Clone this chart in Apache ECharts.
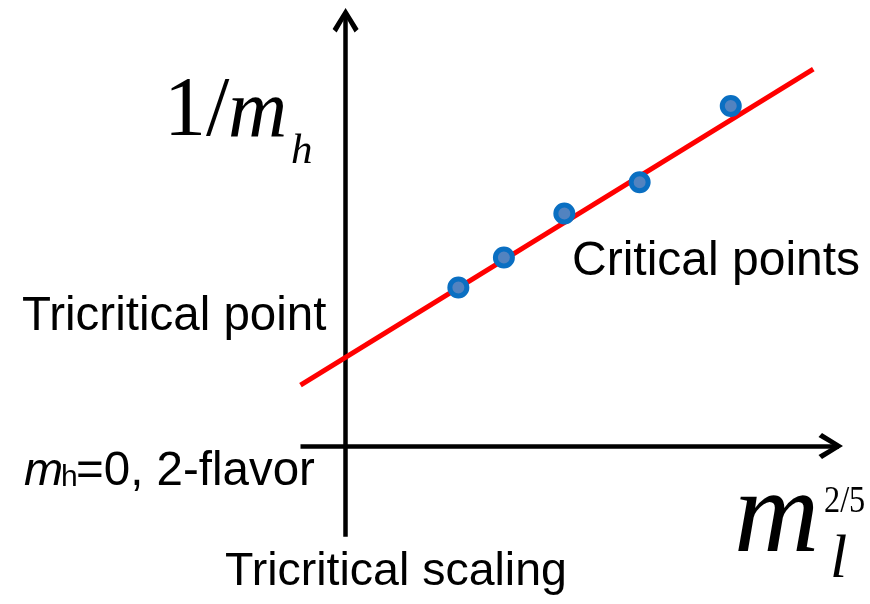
<!DOCTYPE html>
<html>
<head>
<meta charset="utf-8">
<script src="https://cdn.jsdelivr.net/npm/echarts@6/dist/echarts.min.js"></script>
<style>
  html, body { margin: 0; padding: 0; background: #ffffff; }
  #chart { width: 870px; height: 604px; }
</style>
</head>
<body>
<div id="chart"></div>
<script>
// Critical points (x = m_l^{2/5}, y = 1/m_h), arbitrary units
const criticalX = [2.50, 3.51, 4.85, 6.52, 8.54];
const criticalY = [3.49, 4.15, 5.12, 5.81, 7.49];

// Linear tricritical-scaling fit, given by its two end points
const fitX = [-1.0, 10.37];
const fitY = [1.34, 8.30];

// Axis extents (origin sits at 0,0)
const xRange = [-1, 10.94];
const yRange = [-2, 9.56];

const SANS = '"Liberation Sans", Arial, sans-serif';
const SERIF = '"Liberation Serif", "Times New Roman", serif';

// Open chevron arrow head for the axis ends
const chevron = 'path://M13,0 L26,21 L22,24.5 L13,9 L4,24.5 L0,21 Z';

const axisLine = {
  show: true,
  onZero: true,
  symbol: ['none', chevron],
  symbolSize: [26, 24.5],
  symbolOffset: [0, -8.25],
  lineStyle: { color: '#000000', width: 4.5, cap: 'butt' }
};

// Text placed by its left edge and baseline
function label(text, x, baseline, size, opts) {
  opts = opts || {};
  const serif = opts.family === SERIF;
  const mid = baseline - size * (serif ? 0.3375 : 0.3465);
  return {
    type: 'text',
    x: x,
    y: mid,
    scaleX: opts.scaleX || 1,
    z: 10,
    style: {
      text: text,
      font: (opts.italic ? 'italic ' : '') + size + 'px ' + (opts.family || SANS),
      fill: '#000000',
      align: 'left',
      verticalAlign: 'middle'
    }
  };
}

const chart = echarts.init(document.getElementById('chart'));
chart.setOption({
  animation: false,
  backgroundColor: '#ffffff',
  grid: { left: 300.5, right: 31, top: 12, bottom: 67.3 },
  xAxis: {
    type: 'value',
    min: xRange[0],
    max: xRange[1],
    axisLine: axisLine,
    axisTick: { show: false },
    axisLabel: { show: false },
    splitLine: { show: false }
  },
  yAxis: {
    type: 'value',
    min: yRange[0],
    max: yRange[1],
    axisLine: axisLine,
    axisTick: { show: false },
    axisLabel: { show: false },
    splitLine: { show: false }
  },
  series: [
    {
      type: 'line',
      data: fitX.map((x, i) => [x, fitY[i]]),
      showSymbol: false,
      symbol: 'none',
      lineStyle: { color: '#ff0000', width: 5, cap: 'butt' },
      z: 2
    },
    {
      type: 'scatter',
      data: criticalX.map((x, i) => [x, criticalY[i]]),
      symbol: 'circle',
      symbolSize: 17,
      itemStyle: { color: '#5283c0', borderColor: '#0a6fc2', borderWidth: 5, opacity: 1 },
      z: 3
    }
  ],
  graphic: [
    // y-axis title: 1/m_h
    label('1/', 164, 141.7, 84, { family: SERIF }),
    label('m', 228, 141.7, 82, { family: SERIF, italic: true }),
    label('h', 291, 166.7, 43, { family: SERIF, italic: true }),
    // x-axis title: m_l^{2/5}
    label('m', 734, 560, 118, { family: SERIF, italic: true }),
    label('l', 830, 581.7, 62, { family: SERIF, italic: true }),
    label('2/5', 824, 515, 38, { family: SERIF, scaleX: 0.85 }),
    // annotations
    label('Critical points', 572, 278.3, 48),
    label('Tricritical point', 22, 333.3, 47.5),
    label('m', 24, 488.3, 47, { italic: true }),
    label('h', 61, 488.3, 30),
    label('=0, 2-flavor', 76, 488.3, 47.5),
    label('Tricritical scaling', 225, 588.3, 46.5)
  ]
});
</script>
</body>
</html>
